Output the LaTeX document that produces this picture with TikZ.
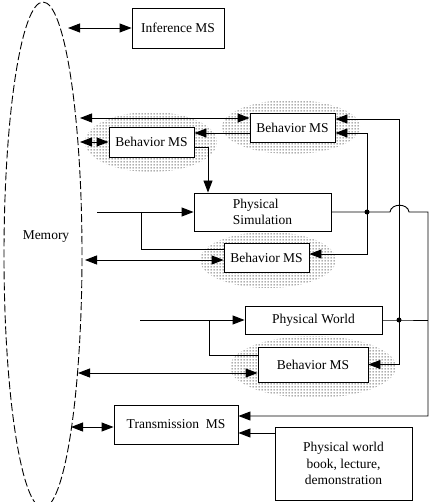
\documentclass[tikz,border=0pt]{standalone}
\usepackage{fontspec}
\setmainfont{Liberation Serif}
\usetikzlibrary{arrows.meta,patterns,shapes.geometric}
\pgfdeclarepatternformonly{stipple}{\pgfqpoint{0pt}{0pt}}{\pgfqpoint{3pt}{3pt}}{\pgfqpoint{3pt}{3pt}}{%
  \pgfpathrectangle{\pgfqpoint{0.9pt}{0.9pt}}{\pgfqpoint{1.2pt}{1.2pt}}\pgfusepath{fill}}
\begin{document}
\begin{tikzpicture}[x=1pt,y=-1pt,line width=0.9pt,
  txt/.style={font=\fontsize{13.5}{16.5}\selectfont},
  box/.style={draw,fill=white,rectangle,inner sep=0pt,txt},
  arr/.style={-{Triangle[length=12pt,width=9pt]}},
  darr/.style={{Triangle[length=12pt,width=9pt]}-{Triangle[length=12pt,width=9pt]}},
  halo/.style={pattern=stipple,pattern color=black!75,draw=none}]
\useasboundingbox (0,0) rectangle (430,502);
% halos
\path[halo] (291,127) ellipse [x radius=69,y radius=27];
\path[halo] (151,142) ellipse [x radius=66,y radius=30];
\path[halo] (268,260) ellipse [x radius=68,y radius=28];
\path[halo] (313,367) ellipse [x radius=83,y radius=31];
% memory
\node[draw,ellipse,dash pattern=on 8pt off 3pt,minimum width=78pt,minimum height=506pt,inner sep=0pt] (mem) at (43,255) {};
\node[txt] (memlbl) at (46,237) {Memory};
% boxes
\node[box,minimum width=92pt,minimum height=40pt] (inf) at (178,28) {Inference MS};
\node[box,minimum width=85pt,minimum height=29pt] (bmsU) at (292.5,127.5) {Behavior MS};
\node[box,minimum width=85pt,minimum height=30pt] (bmsL) at (151.5,142) {Behavior MS};
\node[box,minimum width=137pt,minimum height=38pt,align=left] (sim) at (262.5,212) {Physical\\Simulation};
\node[box,minimum width=85pt,minimum height=29pt] (bmsM) at (266.5,257.5) {Behavior MS};
\node[box,minimum width=137pt,minimum height=28pt] (world) at (313.5,320) {Physical World};
\node[box,minimum width=110pt,minimum height=35pt] (bmsB) at (313,364.5) {Behavior MS};
\node[box,minimum width=124pt,minimum height=39pt] (trans) at (176,424.5) {Transmission\ \ MS};
\node[box,minimum width=137pt,minimum height=73pt,align=center] (phys) at (343.5,463.5) {Physical world\\book, lecture,\\demonstration};
% coordinates
\coordinate (mInf) at (68,28);
\coordinate (mU) at (80,118);
\coordinate (mL) at (80,142);
\coordinate (mM) at (85,260);
\coordinate (mB) at (78,373);
\coordinate (mT) at (71,427);
\coordinate (inS) at (97,212);
\coordinate (brS) at (141,212);
\coordinate (inW) at (140,320);
\coordinate (brW) at (209,320);
\coordinate (j1) at (367,212);
\coordinate (j2) at (399,320);
\coordinate (h1) at (390,212);
\coordinate (h2) at (409,212);
\coordinate (c1) at (428,212);
\coordinate (uL) at ([yshift=-5.5pt]bmsU.west);
\coordinate (tR) at ([yshift=8.5pt]trans.east);
\coordinate (tP) at ([yshift=-8.5pt]trans.east);
% connectors
\draw[darr] (mInf) -- (inf.west);
\draw[darr] (mU) -- (mU -| bmsU.west);
\draw[darr] (mL) -- (bmsL.west);
\draw[arr] (uL) -- (uL -| bmsL.east);
\draw[arr] ([yshift=-5pt]bmsL.east) -| ([xshift=-54.5pt]sim.north);
\draw[arr] (inS) -- (sim.west);
\draw (brS) |- ([yshift=8.5pt]bmsM.west);
\draw[darr] (mM) -- (mM -| bmsM.west);
\draw[arr] (sim.east) -- (h1) .. controls (391,203) and (408,203) .. (h2) -- (c1) |- (tR);
\draw[arr] (j1) |- ([yshift=-5.5pt]bmsU.east);
\draw[arr] (j1) |- ([yshift=3.5pt]bmsM.east);
\draw[arr] (j2) |- ([yshift=8.5pt]bmsU.east);
\draw[arr] (j2) |- (bmsB.east);
\draw (world.east) -- (j2) -- (j2 -| c1);
\draw[arr] (inW) -- (world.west);
\draw (brW) |- ([yshift=9.5pt]bmsB.west);
\draw[darr] (mB) -- (mB -| bmsB.west);
\draw[darr] (mT) -- (mT -| trans.west);
\draw[arr] (tP -| phys.west) -- (tP);
\fill (j1) circle (2.5pt);
\fill (j2) circle (2.5pt);
\end{tikzpicture}
\end{document}
